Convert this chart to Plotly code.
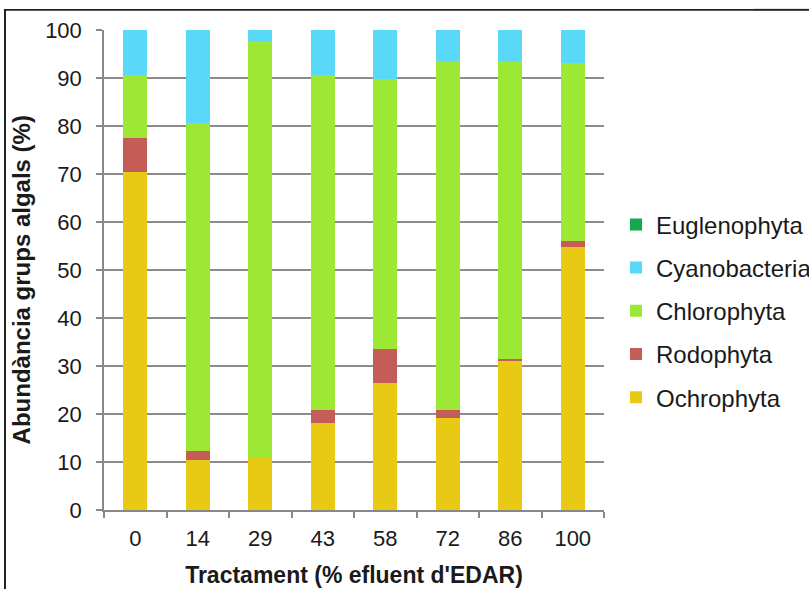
import plotly.graph_objects as go

categories = ["0", "14", "29", "43", "58", "72", "86", "100"]
ochrophyta = [70.5, 10.4, 10.9, 18.1, 26.4, 19.2, 31.0, 54.7]
rodophyta = [7.1, 1.8, 0.0, 2.8, 7.1, 1.7, 0.5, 1.3]
chlorophyta = [13.0, 68.4, 86.9, 69.7, 56.3, 72.6, 62.0, 37.1]
cyanobacteria = [9.4, 19.4, 2.2, 9.4, 10.2, 6.5, 6.5, 6.9]
euglenophyta = [0, 0, 0, 0, 0, 0, 0, 0]

series = [
    ("Ochrophyta", ochrophyta, "#E8CA14"),
    ("Rodophyta", rodophyta, "#C45C58"),
    ("Chlorophyta", chlorophyta, "#9DE835"),
    ("Cyanobacteria", cyanobacteria, "#5AD8F8"),
    ("Euglenophyta", euglenophyta, "#11A84E"),
]

fig = go.Figure()
for i, (name, vals, col) in enumerate(series):
    fig.add_trace(go.Bar(x=categories, y=vals, name=name, marker_color=col,
                         marker_line_width=0, legendgroup=name,
                         legendrank=len(series) - i))

FONT = "Liberation Sans, Arial, sans-serif"

# frame: top edge drawn in segments, plus the left edge
top_segments = [(-0.2, 1.0), (1.0, 1.2), (1.2, 1.3), (1.3, 1.36), (1.36, 1.41)]
shapes = [dict(type="rect", xref="paper", yref="paper", x0=a, x1=b, y0=1.04, y1=1.044,
               line=dict(width=0), fillcolor="#222", layer="above")
          for a, b in top_segments]
shapes.append(dict(type="rect", xref="paper", yref="paper", x0=-0.2, x1=-0.196, y0=-0.2,
                   y1=1.044, line=dict(width=0), fillcolor="#222", layer="above"))

fig.update_layout(
    barmode="stack",
    bargap=0.61,
    width=809, height=589,
    margin=dict(l=104, r=205, t=30, b=79, autoexpand=False),
    paper_bgcolor="white", plot_bgcolor="white",
    font=dict(family=FONT, color="#1a1a1a", size=22),
    legend=dict(traceorder="grouped", x=1.024, xanchor="left", y=0.415,
                yanchor="middle", font=dict(size=24, color="#1a1a1a"), itemwidth=30,
                tracegroupgap=9, bgcolor="rgba(0,0,0,0)"),
    xaxis=dict(
        type="category", tickson="boundaries", ticks="outside", ticklen=6, tickcolor="#888",
        showline=True, linecolor="#888", linewidth=1.5, tickwidth=1.5,
        tickfont=dict(size=22), ticklabelstandoff=8,
        title=dict(text="<b>Tractament (% efluent d'EDAR)</b>", font=dict(size=23), standoff=17),
    ),
    yaxis=dict(
        range=[0, 100], dtick=10, ticks="outside", ticklen=6, tickcolor="#888", tickwidth=1.5,
        showline=True, linecolor="#888", linewidth=1.5,
        showgrid=True, gridcolor="#8c8c8c", gridwidth=1.5,
        tickfont=dict(size=22), ticklabelstandoff=10,
    ),
    annotations=[dict(text="<b>Abundància grups algals (%)</b>", textangle=-90,
                      xref="paper", yref="paper", x=-0.1653, y=0.479,
                      xanchor="center", yanchor="middle", showarrow=False,
                      font=dict(size=24, color="#1a1a1a"))],
    shapes=shapes,
)

fig.write_html("out.html", post_script="document.body.style.margin='0';",
               config={"displayModeBar": False})
